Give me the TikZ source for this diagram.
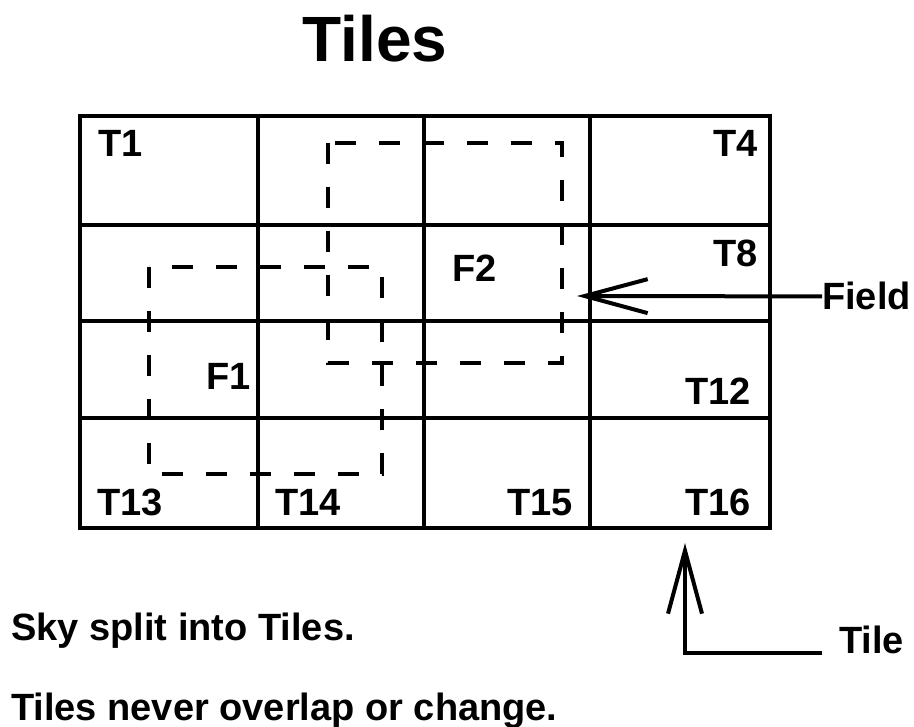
\documentclass[tikz,border=0pt]{standalone}
\usepackage{fontspec}
\setmainfont{Liberation Sans}
\usepackage{tikz}
\usetikzlibrary{arrows.meta, positioning}
\tikzstyle{tilegrid} = [line width=4.5pt]
\tikzstyle{fieldbox} = [line width=4pt, dash pattern=on 21pt off 23pt]
\tikzstyle{tag} = [inner sep=0pt, font=\fontsize{38}{40}\selectfont\bfseries]
\tikzstyle{pointer} = [line width=4pt, -{Straight Barb[length=63pt,width=34pt]}]

\begin{document}
\begin{tikzpicture}[x=1pt, y=-1pt]
	\useasboundingbox (0,0) rectangle (914,727);
	\node[tag, font=\fontsize{64}{66}\selectfont\bfseries, anchor=base] (title) at (375,62) {Tiles};
	% tiles
	\draw[tilegrid] (80,116) rectangle (770,528);
	\foreach \x in {258,424,590} \draw[tilegrid] (\x,116) -- (\x,528);
	\foreach \y in {225,321,418} \draw[tilegrid] (80,\y) -- (770,\y);
	% fields
	\draw[fieldbox] (328,143) rectangle (562,363);
	\draw[fieldbox] (149,267) rectangle (382,474);
	\node[tag, anchor=base west] (t1) at (98,157) {T1};
	\node[tag, anchor=base east] (t4) at (758,157) {T4};
	\node[tag, anchor=base east] (t8) at (758,267) {T8};
	\node[tag, anchor=base east] (t12) at (751,405) {T12};
	\node[tag, anchor=base west] (t13) at (97,515) {T13};
	\node[tag, anchor=base west] (t14) at (275,515) {T14};
	\node[tag, anchor=base east] (t15) at (573,515) {T15};
	\node[tag, anchor=base east] (t16) at (751,515) {T16};
	\node[tag, anchor=base west] (f1) at (206,390) {F1};
	\node[tag, anchor=base west] (f2) at (452,282) {F2};
	% pointers
	\node[tag, anchor=base west] (field) at (822,310) {Field};
	\coordinate (fieldtip) at (577,296);
	\draw[pointer] (field.west) -- (fieldtip);
	\node[tag, anchor=base west] (tile) at (839,653) {Tile};
	\coordinate (tiletip) at (685,543);
	\draw[pointer] ([xshift=-17pt]tile.base west) -| (tiletip);
	% notes
	\node[tag, anchor=base west] (note1) at (11,640) {Sky split into Tiles.};
	\node[tag, anchor=base west] (note2) at (11,720) {Tiles never overlap or change.};
\end{tikzpicture}
\end{document}
